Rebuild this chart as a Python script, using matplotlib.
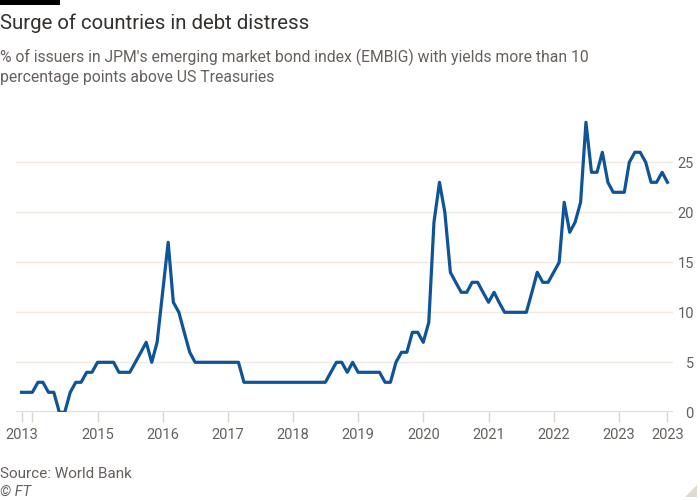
"""
FT-style line chart: share of EMBIG issuers in debt distress.
"""

import matplotlib
matplotlib.use("Agg")
import matplotlib.pyplot as plt
import pandas as pd
from matplotlib.patches import Polygon, Rectangle

# Monthly readings, Nov 2013 - Oct 2023
months = pd.date_range("2013-11-01", "2023-10-01", freq="MS")
share = [
    2, 2, 2, 3, 3, 2, 2, 0, 0, 2, 3, 3,
    4, 4, 5, 5, 5, 5, 4, 4, 4, 5, 6, 7,
    5, 7, 12, 17, 11, 10, 8, 6, 5, 5, 5, 5,
    5, 5, 5, 5, 5, 3, 3, 3, 3, 3, 3, 3,
    3, 3, 3, 3, 3, 3, 3, 3, 3, 4, 5, 5,
    4, 5, 4, 4, 4, 4, 4, 3, 3, 5, 6, 6,
    8, 8, 7, 9, 19, 23, 20, 14, 13, 12, 12, 13,
    13, 12, 11, 12, 11, 10, 10, 10, 10, 10, 12, 14,
    13, 13, 14, 15, 21, 18, 19, 21, 29, 24, 24, 26,
    23, 22, 22, 22, 25, 26, 26, 25, 23, 23, 24, 23,
]

tick_dates = ["2013-11-01", "2014-01-01", "2015-01-01", "2016-01-01",
              "2017-01-01", "2018-01-01", "2019-01-01", "2020-01-01",
              "2021-01-01", "2022-01-01", "2023-01-01", "2023-10-01"]
tick_labels = ["2013", "", "2015", "2016", "2017", "2018", "2019",
               "2020", "2021", "2022", "2023", "2023"]
y_ticks = [0, 5, 10, 15, 20, 25]

title = "Surge of countries in debt distress"
subtitle = ("% of issuers in JPM's emerging market bond index (EMBIG) with yields more than 10\n"
            "percentage points above US Treasuries")
source = "Source: World Bank"

plt.rcParams["font.family"] = ["Roboto", "DejaVu Sans"]

W, H = 700, 500
fig = plt.figure(figsize=(7, 5), dpi=100, facecolor="white")


def fy(px):
    # pixel row from top -> figure fraction
    return 1 - px / H


ax = fig.add_axes([16 / W, fy(412.3), (673 - 16) / W, 300 / H])
ax.set_facecolor("white")

ax.plot(months, share, color="#0F5499", lw=2.3, solid_joinstyle="round", zorder=3)

ax.set_ylim(0, 30)
ax.set_xlim(pd.Timestamp("2013-10-01"), pd.Timestamp("2023-11-01"))

ax.set_yticks(y_ticks)
ax.yaxis.tick_right()
ax.grid(axis="y", color="#F2EAE2", lw=1, zorder=0)
ax.axhline(0, color="#DCD3CA", lw=1.3, zorder=1)
ax.tick_params(axis="y", length=0, pad=15, labelsize=10.5, labelcolor="#66605C")
for lab in ax.get_yticklabels():
    lab.set_horizontalalignment("right")

ax.set_xticks(pd.to_datetime(tick_dates))
ax.set_xticklabels(tick_labels)
ax.tick_params(axis="x", length=7.5, width=1, color="#DCD3CA", pad=4,
               labelsize=10.5, labelcolor="#66605C")

for s in ax.spines.values():
    s.set_visible(False)

# header / footer
fig.add_artist(Rectangle((0, fy(4.5)), 60 / W, 4.5 / H, transform=fig.transFigure,
                         color="black", lw=0))
fig.text(0, fy(29.5), title, fontsize=14.7, color="#33302E", va="baseline")
fig.text(0, fy(82), subtitle, fontsize=11.3, color="#66605C", va="baseline",
         linespacing=1.35)
fig.text(0, fy(478), source, fontsize=11, color="#66605C", va="baseline")
fig.text(0, fy(496), "© FT", fontsize=10.5, color="#66605C", va="baseline",
         style="italic")
fig.add_artist(Polygon([(697 / W, fy(485)), (697 / W, fy(497)), (685 / W, fy(497))],
                       closed=True, transform=fig.transFigure, color="#E3D9CF", lw=0))

fig.savefig("out.png", dpi=100, facecolor="white")
